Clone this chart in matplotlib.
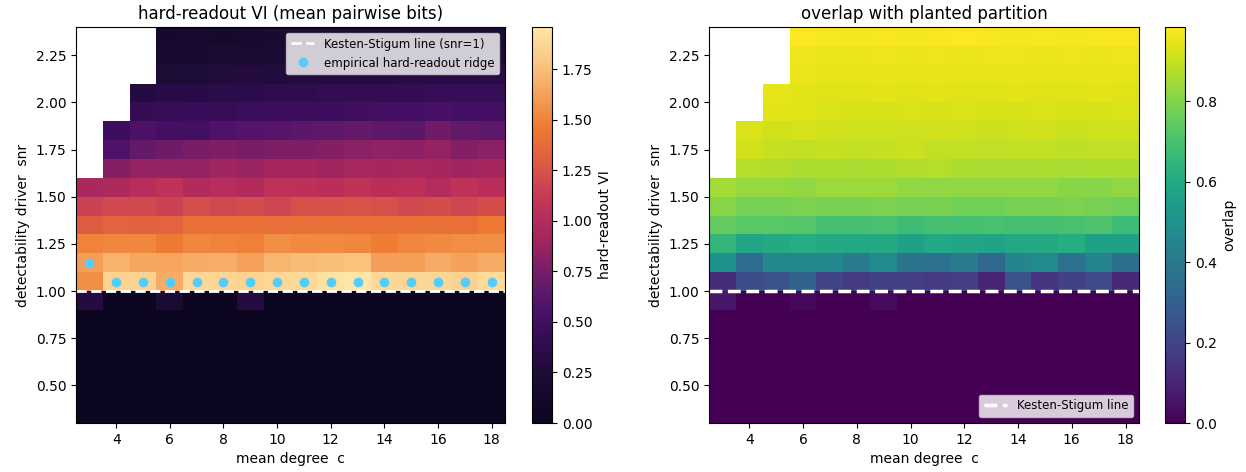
import matplotlib
matplotlib.use('Agg')
import matplotlib.pyplot as plt
import numpy as np
from matplotlib.colors import LinearSegmentedColormap

nan = np.nan
degree = [3, 4, 5, 6, 7, 8, 9, 10, 11, 12, 13, 14, 15, 16, 17, 18]
snr = [0.35, 0.45, 0.55, 0.65, 0.75, 0.85, 0.95, 1.05, 1.15, 1.25, 1.35,
       1.45, 1.55, 1.65, 1.75, 1.85, 1.95, 2.05, 2.15, 2.25, 2.35]

# hard-readout VI, rows = snr (bottom -> top), cols = degree
vi = [
    [0.0, 0.0, 0.0, 0.0, 0.0, 0.0, 0.0, 0.0, 0.0, 0.0, 0.0, 0.0, 0.0, 0.0, 0.0, 0.0],
    [0.0, 0.0, 0.0, 0.0, 0.0, 0.0, 0.0, 0.0, 0.0, 0.0, 0.0, 0.0, 0.0, 0.0, 0.0, 0.0],
    [0.0, 0.0, 0.0, 0.0, 0.0, 0.0, 0.0, 0.0, 0.0, 0.0, 0.0, 0.0, 0.0, 0.0, 0.0, 0.0],
    [0.0, 0.0, 0.0, 0.0, 0.0, 0.0, 0.0, 0.0, 0.0, 0.0, 0.0, 0.0, 0.0, 0.0, 0.0, 0.0],
    [0.0, 0.0, 0.0, 0.0, 0.0, 0.0, 0.0, 0.0, 0.0, 0.0, 0.0, 0.0, 0.0, 0.0, 0.0, 0.0],
    [0.0, 0.0, 0.0, 0.0, 0.0, 0.0, 0.0, 0.0, 0.0, 0.0, 0.0, 0.0, 0.0, 0.0, 0.0, 0.0],
    [0.30, 0.01, 0.01, 0.20, 0.01, 0.01, 0.30, 0.01, 0.01, 0.01, 0.01, 0.01, 0.01, 0.01, 0.01, 0.01],
    [1.55, 1.85, 1.85, 1.67, 1.88, 1.87, 1.86, 1.88, 1.89, 1.93, 1.96, 1.88, 1.87, 1.87, 1.86, 1.90],
    [1.61, 1.70, 1.65, 1.64, 1.67, 1.68, 1.63, 1.71, 1.74, 1.75, 1.77, 1.62, 1.61, 1.67, 1.63, 1.67],
    [1.50, 1.52, 1.51, 1.46, 1.51, 1.50, 1.49, 1.55, 1.53, 1.53, 1.52, 1.47, 1.52, 1.53, 1.54, 1.55],
    [1.30, 1.33, 1.32, 1.33, 1.40, 1.40, 1.41, 1.40, 1.40, 1.41, 1.40, 1.40, 1.41, 1.40, 1.40, 1.46],
    [1.16, 1.20, 1.20, 1.17, 1.23, 1.20, 1.21, 1.18, 1.24, 1.24, 1.25, 1.24, 1.20, 1.22, 1.18, 1.22],
    [0.94, 0.97, 1.02, 1.07, 0.98, 1.02, 0.99, 1.06, 1.05, 1.04, 1.07, 1.04, 1.05, 1.00, 1.07, 1.04],
    [nan, 0.80, 0.86, 0.86, 0.85, 0.90, 0.88, 0.92, 0.92, 0.90, 0.93, 0.92, 0.94, 0.92, 0.90, 0.92],
    [nan, 0.58, 0.68, 0.72, 0.76, 0.78, 0.76, 0.78, 0.78, 0.80, 0.82, 0.84, 0.83, 0.86, 0.80, 0.82],
    [nan, 0.48, 0.56, 0.52, 0.50, 0.58, 0.59, 0.61, 0.63, 0.65, 0.68, 0.65, 0.63, 0.72, 0.66, 0.65],
    [nan, nan, 0.42, 0.44, 0.45, 0.44, 0.46, 0.48, 0.47, 0.48, 0.49, 0.50, 0.52, 0.54, 0.51, 0.52],
    [nan, nan, 0.30, 0.34, 0.34, 0.36, 0.36, 0.38, 0.38, 0.40, 0.40, 0.41, 0.41, 0.43, 0.43, 0.43],
    [nan, nan, nan, 0.24, 0.26, 0.28, 0.30, 0.29, 0.30, 0.32, 0.32, 0.32, 0.33, 0.34, 0.34, 0.35],
    [nan, nan, nan, 0.17, 0.19, 0.21, 0.21, 0.22, 0.22, 0.23, 0.24, 0.24, 0.25, 0.25, 0.25, 0.25],
    [nan, nan, nan, 0.14, 0.16, 0.13, 0.16, 0.17, 0.18, 0.18, 0.19, 0.19, 0.20, 0.20, 0.20, 0.20],
]

# overlap with planted partition
overlap = [
    [0.0, 0.0, 0.0, 0.0, 0.0, 0.0, 0.0, 0.0, 0.0, 0.0, 0.0, 0.0, 0.0, 0.0, 0.0, 0.0],
    [0.0, 0.0, 0.0, 0.0, 0.0, 0.0, 0.0, 0.0, 0.0, 0.0, 0.0, 0.0, 0.0, 0.0, 0.0, 0.0],
    [0.0, 0.0, 0.0, 0.0, 0.0, 0.0, 0.0, 0.0, 0.0, 0.0, 0.0, 0.0, 0.0, 0.0, 0.0, 0.0],
    [0.0, 0.0, 0.0, 0.0, 0.0, 0.0, 0.0, 0.0, 0.0, 0.0, 0.0, 0.0, 0.0, 0.0, 0.0, 0.0],
    [0.0, 0.0, 0.0, 0.0, 0.0, 0.0, 0.0, 0.0, 0.0, 0.0, 0.0, 0.0, 0.0, 0.0, 0.0, 0.0],
    [0.0, 0.0, 0.0, 0.0, 0.0, 0.0, 0.0, 0.0, 0.0, 0.0, 0.0, 0.0, 0.0, 0.0, 0.0, 0.0],
    [0.06, 0.0, 0.0, 0.02, 0.0, 0.0, 0.03, 0.0, 0.0, 0.0, 0.0, 0.0, 0.0, 0.0, 0.0, 0.0],
    [0.12, 0.23, 0.25, 0.31, 0.20, 0.17, 0.19, 0.18, 0.17, 0.18, 0.10, 0.25, 0.15, 0.19, 0.22, 0.11],
    [0.50, 0.35, 0.46, 0.46, 0.46, 0.41, 0.47, 0.38, 0.37, 0.41, 0.33, 0.45, 0.47, 0.37, 0.44, 0.36],
    [0.65, 0.58, 0.60, 0.61, 0.60, 0.59, 0.60, 0.56, 0.59, 0.58, 0.57, 0.59, 0.60, 0.61, 0.56, 0.56],
    [0.75, 0.73, 0.73, 0.72, 0.69, 0.69, 0.70, 0.68, 0.69, 0.69, 0.70, 0.69, 0.69, 0.70, 0.71, 0.67],
    [0.81, 0.78, 0.78, 0.79, 0.78, 0.785, 0.79, 0.78, 0.785, 0.77, 0.77, 0.78, 0.78, 0.79, 0.78, 0.77],
    [0.85, 0.83, 0.83, 0.82, 0.835, 0.835, 0.84, 0.82, 0.82, 0.82, 0.82, 0.82, 0.82, 0.81, 0.81, 0.82],
    [nan, 0.875, 0.87, 0.865, 0.865, 0.86, 0.865, 0.87, 0.875, 0.865, 0.86, 0.86, 0.865, 0.86, 0.865, 0.865],
    [nan, 0.915, 0.90, 0.895, 0.90, 0.895, 0.90, 0.905, 0.895, 0.895, 0.89, 0.895, 0.895, 0.885, 0.89, 0.89],
    [nan, 0.93, 0.915, 0.92, 0.915, 0.91, 0.91, 0.91, 0.915, 0.91, 0.905, 0.91, 0.915, 0.905, 0.91, 0.91],
    [nan, nan, 0.94, 0.935, 0.93, 0.925, 0.925, 0.93, 0.925, 0.93, 0.925, 0.925, 0.93, 0.925, 0.925, 0.93],
    [nan, nan, 0.95, 0.94, 0.935, 0.935, 0.94, 0.935, 0.94, 0.935, 0.935, 0.94, 0.935, 0.935, 0.94, 0.935],
    [nan, nan, nan, 0.955, 0.948, 0.948, 0.95, 0.948, 0.95, 0.948, 0.95, 0.948, 0.95, 0.948, 0.95, 0.948],
    [nan, nan, nan, 0.96, 0.958, 0.958, 0.96, 0.958, 0.96, 0.958, 0.96, 0.96, 0.958, 0.96, 0.958, 0.96],
    [nan, nan, nan, 0.985, 0.975, 0.972, 0.975, 0.972, 0.975, 0.978, 0.975, 0.972, 0.975, 0.972, 0.975, 0.975],
]

ridge_degree = [3, 4, 5, 6, 7, 8, 9, 10, 11, 12, 13, 14, 15, 16, 17, 18]
ridge_snr = [1.15, 1.05, 1.05, 1.05, 1.05, 1.05, 1.05, 1.05, 1.05, 1.05, 1.05, 1.05, 1.05, 1.05, 1.05, 1.05]

vi_cmap = LinearSegmentedColormap.from_list('vi', [
    (0.0, '#0c0620'), (0.13, '#1e0c38'), (0.22, '#360d57'), (0.28, '#4a1068'),
    (0.33, '#5e186a'), (0.40, '#7f1e66'), (0.46, '#a2265f'), (0.53, '#bb2e5a'),
    (0.60, '#cc4452'), (0.67, '#e0603e'), (0.75, '#ef7b32'), (0.82, '#f49c55'),
    (0.90, '#f9c17c'), (1.0, '#fee6a6')])

fig = plt.figure(figsize=(12.46, 4.72), dpi=100)
ax1 = fig.add_axes([0.061, 0.1038, 0.3443, 0.839])
cax1 = fig.add_axes([0.427, 0.1038, 0.01605, 0.839])
ax2 = fig.add_axes([0.569, 0.1038, 0.3451, 0.839])
cax2 = fig.add_axes([0.935, 0.1038, 0.01605, 0.839])

m1 = ax1.pcolormesh(degree, snr, np.ma.masked_invalid(np.array(vi)), cmap=vi_cmap, shading='nearest', vmin=0)
ax1.axhline(1.0, color='white', ls='--', lw=2, label='Kesten-Stigum line (snr=1)')
ax1.plot(ridge_degree, ridge_snr, 'o', color='#55ccfa', ms=6, ls='none', label='empirical hard-readout ridge')
ax1.set_title('hard-readout VI (mean pairwise bits)')
ax1.set_xlabel('mean degree  c'); ax1.set_ylabel('detectability driver  snr')
ax1.legend(loc='upper right', fontsize=8.5)
fig.colorbar(m1, cax=cax1, label='hard-readout VI')

m2 = ax2.pcolormesh(degree, snr, np.ma.masked_invalid(np.array(overlap)), cmap='viridis', shading='nearest', vmin=0)
ax2.axhline(1.0, color='white', ls='--', lw=2.5, label='Kesten-Stigum line')
ax2.set_title('overlap with planted partition')
ax2.set_xlabel('mean degree  c'); ax2.set_ylabel('detectability driver  snr')
ax2.legend(loc='lower right', fontsize=8.5)
fig.colorbar(m2, cax=cax2, label='overlap')

for ax in (ax1, ax2):
    ax.set_xticks([4, 6, 8, 10, 12, 14, 16, 18])
    ax.set_yticks([0.5, 0.75, 1.0, 1.25, 1.5, 1.75, 2.0, 2.25])

fig.savefig('out.png', dpi=100)
